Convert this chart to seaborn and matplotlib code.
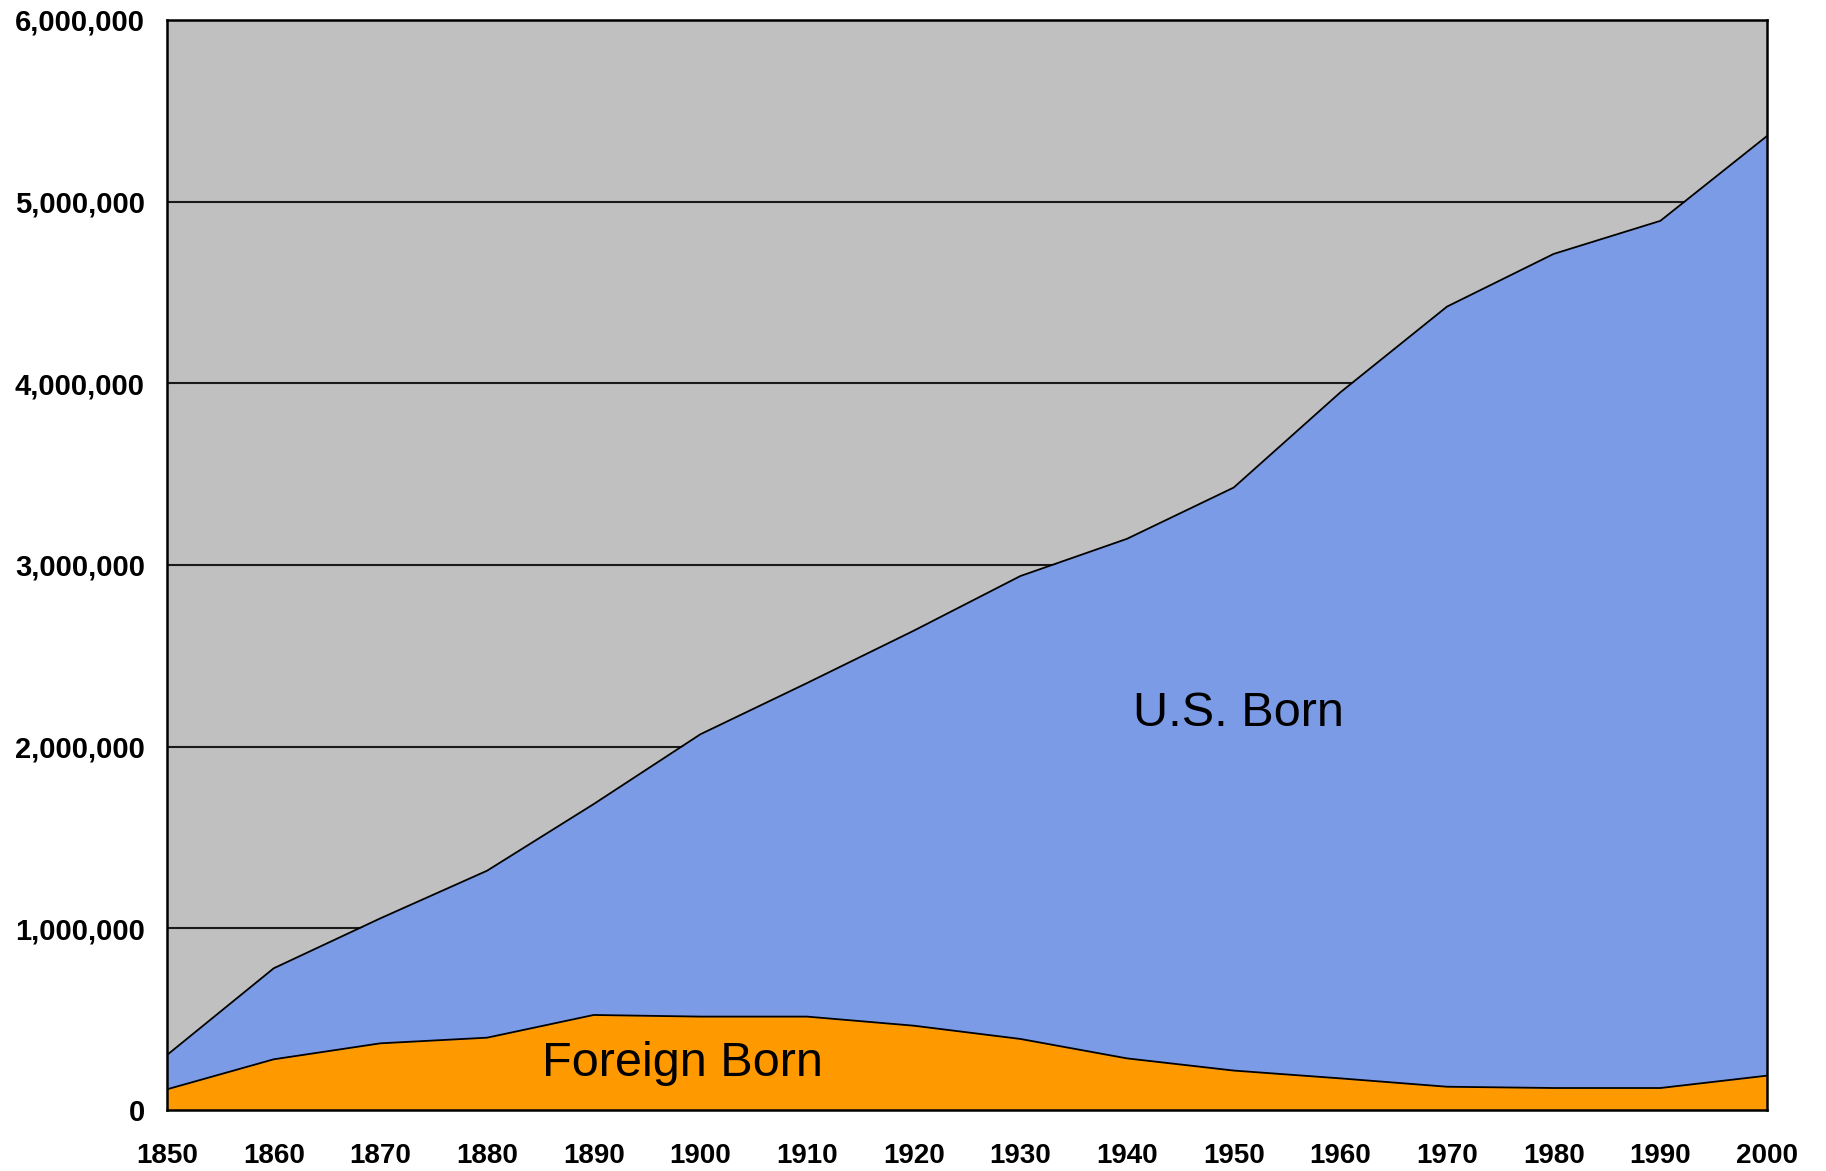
import numpy as np
import pandas as pd
import matplotlib
matplotlib.use("Agg")
import matplotlib.pyplot as plt
import seaborn as sns
from matplotlib.ticker import FuncFormatter

# census years and population (persons)
years = [1850, 1860, 1870, 1880, 1890, 1900, 1910, 1920,
         1930, 1940, 1950, 1960, 1970, 1980, 1990, 2000]
foreign_born = [114000, 279000, 367000, 398000, 523000, 514000, 514000, 464000,
                391000, 284000, 217000, 174000, 128000, 121000, 121000, 189000]
us_born = [189000, 501000, 688000, 919000, 1161000, 1554000, 1836000, 2174000,
           2548000, 2860000, 3209000, 3776000, 4294000, 4591000, 4773000, 5172000]

y_ticks = [0, 1000000, 2000000, 3000000, 4000000, 5000000, 6000000]

df = pd.DataFrame({"year": years, "Foreign Born": foreign_born, "U.S. Born": us_born})
df["total"] = df["Foreign Born"] + df["U.S. Born"]

sns.set_style("white")
plt.rcParams["font.family"] = ["Liberation Sans", "DejaVu Sans"]
plt.rcParams["text.color"] = "black"

fig = plt.figure(figsize=(18.26, 11.71), dpi=100)
ax = fig.add_axes([0.0915, 0.0521, 0.8762, 0.9309])
ax.set_facecolor("#C0C0C0")

# gridlines behind the areas
ax.set_axisbelow(True)
ax.yaxis.grid(True, color="#1a1a1a", linewidth=1.5)
ax.xaxis.grid(False)

ax.fill_between(df["year"], 0, df["Foreign Born"], color="#FF9900", linewidth=0, zorder=2)
ax.fill_between(df["year"], df["Foreign Born"], df["total"], color="#7B9BE6", linewidth=0, zorder=2)
sns.lineplot(data=df, x="year", y="Foreign Born", color="black", linewidth=1.3, ax=ax, zorder=3)
sns.lineplot(data=df, x="year", y="total", color="black", linewidth=1.3, ax=ax, zorder=3)

ax.set_xlim(1850, 2000)
ax.set_ylim(0, 6000000)
ax.set_xticks(years)
ax.set_yticks(y_ticks)
ax.yaxis.set_major_formatter(FuncFormatter(lambda v, p: f"{int(v):,}"))
ax.set_xlabel("")
ax.set_ylabel("")

for side in ["left", "bottom", "right", "top"]:
    ax.spines[side].set_visible(True)
    ax.spines[side].set_color("black")
    ax.spines[side].set_linewidth(1.8)
    ax.spines[side].set_zorder(5)

ax.tick_params(axis="both", which="major", direction="out", length=7, width=1.3,
               color="#222222", labelsize=20, labelcolor="black")
ax.tick_params(axis="y", labelsize=21)
ax.tick_params(axis="x", pad=17)
ax.tick_params(axis="y", pad=9)
for lbl in ax.get_xticklabels() + ax.get_yticklabels():
    lbl.set_fontweight("bold")

ax.text(1898.3, 255000, "Foreign Born", fontsize=35, color="black",
        ha="center", va="center", zorder=6)
ax.text(1950.4, 2185000, "U.S. Born", fontsize=35, color="black",
        ha="center", va="center", zorder=6)

fig.savefig("out.png", dpi=100)
